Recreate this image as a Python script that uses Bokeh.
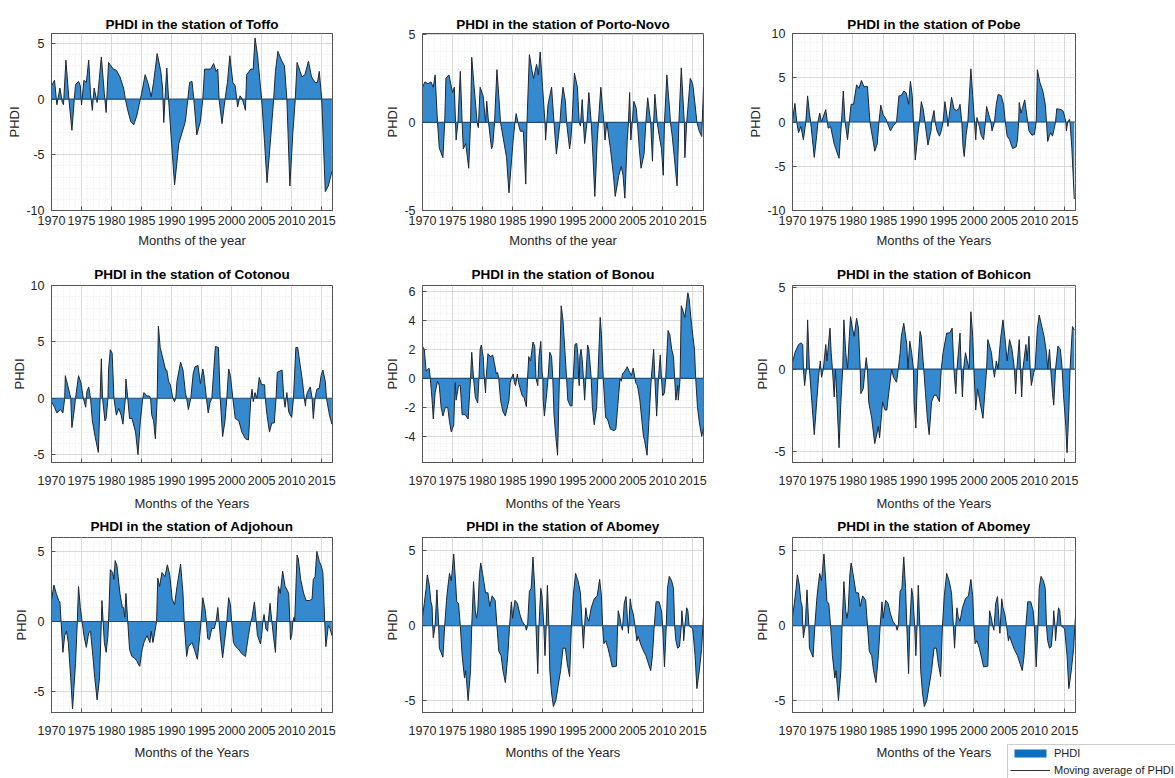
from bokeh.plotting import figure
from bokeh.layouts import column, row
from bokeh.models import Span, Legend, LegendItem, FixedTicker, Range1d
from bokeh.core.properties import value
from bokeh.embed import file_html
from bokeh.resources import INLINE

# ---------------- data ----------------
toffo_years = [1970.0, 1970.5, 1970.9, 1971.4, 1971.8, 1972.0, 1972.4, 1972.9, 1973.4, 1973.8, 1974.0, 1974.5, 1974.8, 1975.0, 1975.4, 1975.8, 1976.2, 1976.5, 1976.8, 1977.1, 1977.6, 1978.3, 1978.8, 1979.1, 1979.5, 1980.3, 1980.8, 1981.4, 1982.0, 1982.3, 1982.7, 1983.2, 1983.7, 1984.2, 1984.6, 1985.0, 1985.6, 1986.1, 1986.6, 1987.0, 1987.6, 1988.2, 1988.5, 1988.7, 1988.9, 1989.2, 1989.5, 1990.0, 1990.5, 1991.2, 1992.3, 1992.7, 1993.0, 1993.4, 1993.7, 1994.2, 1994.8, 1995.2, 1995.5, 1996.5, 1997.0, 1997.4, 1997.7, 1997.9, 1998.4, 1998.9, 1999.3, 1999.7, 2000.2, 2000.6, 2001.0, 2001.4, 2001.8, 2002.3, 2002.5, 2003.2, 2003.6, 2003.9, 2004.3, 2005.0, 2005.5, 2005.9, 2006.5, 2007.0, 2007.3, 2007.7, 2008.3, 2008.8, 2009.2, 2009.7, 2010.2, 2010.6, 2010.9, 2011.4, 2011.7, 2012.2, 2012.8, 2013.3, 2013.9, 2014.3, 2014.6, 2015.0, 2015.6, 2016.1, 2016.7]
toffo_phdi = [1.2, 1.7, -0.5, 1.0, -0.3, -0.5, 3.5, 0.0, -2.8, 0.0, 1.3, 1.6, 1.2, -0.5, 1.7, 1.5, 3.5, 0.5, -1.0, 1.0, -0.3, 3.8, 0.5, -1.2, 3.3, 2.7, 2.6, 2.0, 1.0, 0.0, -1.0, -2.0, -2.3, -1.5, -0.5, 0.5, 2.2, 1.4, 0.2, 1.5, 4.1, 2.5, 1.0, -2.1, 0.0, 2.8, 0.0, -4.0, -7.7, -4.0, -2.0, 0.0, 1.5, 1.6, 0.0, -3.2, -2.0, 0.0, 2.7, 2.7, 3.2, 2.5, 2.7, 0.0, -2.2, 0.0, 1.5, 3.9, 1.5, 1.2, -0.7, 0.3, 0.0, -1.0, 2.2, 2.7, 2.7, 5.5, 4.0, 0.0, -4.0, -7.5, -3.5, 0.0, 2.5, 4.3, 3.5, 3.0, 0.0, -7.8, -3.0, 0.0, 3.3, 2.5, 2.0, 2.2, 3.4, 2.0, 1.5, 1.5, 2.5, 0.0, -8.3, -7.8, -6.5]

porto_years = [1970.0, 1970.4, 1970.9, 1971.4, 1971.8, 1972.1, 1972.5, 1972.8, 1973.4, 1973.7, 1973.9, 1974.4, 1975.0, 1975.3, 1975.6, 1975.9, 1976.3, 1976.6, 1976.8, 1977.2, 1977.7, 1978.0, 1978.2, 1978.6, 1979.1, 1979.3, 1979.6, 1980.1, 1980.5, 1980.7, 1981.0, 1981.5, 1981.7, 1982.0, 1982.4, 1983.0, 1983.3, 1984.0, 1984.4, 1985.1, 1985.4, 1985.6, 1985.9, 1986.3, 1986.8, 1987.2, 1987.4, 1987.8, 1988.2, 1988.5, 1989.0, 1989.3, 1989.6, 1990.0, 1990.4, 1990.5, 1990.9, 1991.5, 1991.9, 1992.3, 1992.9, 1993.1, 1993.4, 1993.8, 1994.0, 1994.5, 1994.7, 1994.9, 1995.3, 1995.8, 1996.1, 1996.3, 1996.6, 1996.8, 1997.0, 1997.4, 1997.7, 1998.1, 1998.4, 1998.7, 1999.1, 1999.3, 1999.7, 2000.2, 2000.4, 2000.7, 2001.3, 2001.8, 2002.1, 2002.7, 2003.1, 2003.4, 2003.7, 2004.1, 2004.3, 2004.5, 2004.7, 2005.2, 2005.6, 2005.8, 2006.1, 2006.4, 2006.9, 2007.2, 2007.5, 2008.0, 2008.3, 2008.5, 2008.7, 2009.1, 2009.4, 2009.8, 2010.1, 2010.3, 2010.7, 2011.2, 2011.3, 2011.6, 2012.0, 2012.4, 2012.7, 2013.1, 2013.6, 2013.7, 2014.0, 2014.6, 2015.0, 2015.4, 2015.7, 2016.1, 2016.5, 2016.8]
porto_phdi = [2.0, 2.3, 2.2, 2.3, 2.0, 2.7, 0.0, -1.45, -2.0, 0.0, 2.5, 2.7, 1.7, 2.0, -1.0, 0.0, 2.9, 0.0, -1.5, -1.2, -2.6, 0.0, 3.7, 2.0, 0.0, -0.3, 2.0, 1.5, 0.0, 1.2, 0.0, -1.5, -1.3, 0.0, 3.0, 0.0, -0.6, -2.0, -4.0, -1.0, 0.0, 0.5, 0.0, -0.5, -0.5, -3.5, 0.0, 3.85, 3.0, 2.5, 3.3, 2.7, 4.0, 2.0, 0.0, -1.0, 1.0, 2.0, 0.0, -1.8, 0.0, 1.0, 2.0, 1.2, 0.0, -1.5, -1.0, 0.0, 2.8, 2.0, 0.0, -0.2, 1.3, 0.0, -1.2, 0.0, 1.7, 0.0, -2.0, -4.2, -1.0, 0.0, 2.0, 0.0, -1.0, 0.0, -1.5, -3.0, -4.2, -3.0, -2.5, -3.0, -4.3, -1.0, 0.0, 1.7, -1.0, 1.2, 0.8, 0.0, -1.5, -2.6, -1.8, 0.0, 1.4, 0.0, -2.2, 0.0, 1.6, 0.0, -0.7, -1.5, -3.0, 0.0, 2.7, 0.5, 0.0, -0.8, -2.2, -3.6, 0.0, 3.1, 0.0, -2.0, 0.0, 2.5, 2.2, 1.0, 0.0, -0.5, -0.8, 2.0]

pobe_years = [1970.0, 1970.4, 1970.7, 1971.0, 1971.4, 1971.8, 1972.2, 1972.5, 1972.8, 1973.0, 1973.3, 1973.6, 1974.0, 1974.2, 1974.5, 1974.8, 1975.5, 1975.9, 1976.3, 1976.9, 1977.7, 1978.1, 1978.4, 1978.7, 1979.1, 1979.4, 1979.7, 1980.1, 1980.6, 1981.0, 1981.4, 1981.8, 1982.4, 1982.8, 1983.3, 1983.6, 1984.0, 1984.3, 1984.6, 1985.0, 1985.5, 1985.8, 1986.2, 1986.6, 1987.2, 1987.6, 1988.0, 1988.4, 1988.8, 1989.2, 1989.5, 1989.8, 1990.0, 1990.3, 1990.8, 1991.0, 1991.3, 1991.6, 1991.9, 1992.4, 1992.9, 1993.0, 1993.4, 1993.6, 1993.9, 1994.3, 1994.6, 1994.9, 1995.2, 1995.6, 1995.7, 1996.3, 1996.7, 1997.1, 1997.5, 1997.7, 1998.0, 1998.2, 1998.4, 1998.7, 1999.0, 1999.5, 1999.8, 2000.1, 2000.3, 2000.5, 2000.9, 2001.2, 2001.6, 2001.9, 2002.1, 2002.6, 2002.8, 2003.0, 2003.4, 2003.7, 2004.0, 2004.5, 2004.9, 2005.2, 2005.5, 2005.9, 2006.4, 2007.0, 2007.2, 2007.4, 2007.5, 2007.8, 2008.4, 2008.6, 2008.9, 2009.1, 2009.6, 2010.0, 2010.3, 2010.5, 2010.9, 2011.4, 2011.8, 2012.0, 2012.2, 2012.5, 2012.7, 2013.0, 2013.5, 2013.7, 2014.4, 2014.8, 2015.2, 2015.3, 2015.5, 2015.8, 2015.9, 2016.2, 2016.6]
pobe_phdi = [0.2, 2.1, 0.0, -1.2, -0.5, -2.0, 0.0, 2.95, 1.0, 0.0, -2.0, -4.0, -1.5, 0.0, 1.0, 0.0, 1.4, -0.7, -0.5, -2.5, -4.1, 0.0, 3.5, 0.0, -2.0, 0.0, 2.0, 2.0, 4.2, 3.8, 4.7, 4.0, 4.0, 0.0, -2.0, -3.3, -2.5, 0.0, 1.9, 0.8, 0.3, -0.3, -1.0, -0.5, 0.0, 2.95, 3.0, 3.5, 3.3, 2.0, 4.6, 3.0, 0.0, -4.3, -1.0, 0.0, 2.3, 1.5, 0.0, -2.6, -1.0, 0.0, 1.3, 0.0, -1.0, -1.6, -1.0, 0.0, 2.3, 0.5, -0.5, 2.8, 1.5, 1.3, 1.5, 2.0, 0.0, -2.8, -3.9, -1.5, 0.0, 6.0, 3.0, 0.0, -2.0, 0.5, -0.5, -1.5, -2.0, 0.0, 1.75, 0.5, 0.0, -1.0, 0.0, 2.0, 3.1, 3.0, 2.0, 0.0, -1.6, -2.0, -3.0, -2.8, -2.0, 0.0, 2.2, 1.0, 2.5, 1.5, 0.0, -1.0, -1.5, -1.4, 0.0, 5.9, 4.5, 3.5, 2.0, 0.0, -2.2, -1.5, -1.2, -1.6, 0.0, 1.5, 1.4, 1.2, 0.0, -1.0, 0.0, 0.3, 0.0, -3.0, -8.7]

cotonou_years = [1970.0, 1970.5, 1970.9, 1971.5, 1971.9, 1972.2, 1972.3, 1972.9, 1973.2, 1973.4, 1973.8, 1974.0, 1974.5, 1974.9, 1975.3, 1975.7, 1975.9, 1976.2, 1976.5, 1976.8, 1977.3, 1977.8, 1978.1, 1978.3, 1978.5, 1978.9, 1979.1, 1979.4, 1979.5, 1979.8, 1980.1, 1980.4, 1980.8, 1981.2, 1981.6, 1981.9, 1982.3, 1982.4, 1982.7, 1983.0, 1983.4, 1984.0, 1984.4, 1984.8, 1985.2, 1985.4, 1985.9, 1986.3, 1986.5, 1986.7, 1987.0, 1987.3, 1987.6, 1987.8, 1988.1, 1988.7, 1989.0, 1989.2, 1989.5, 1989.8, 1990.2, 1990.5, 1990.7, 1990.9, 1991.5, 1991.9, 1992.3, 1992.5, 1992.8, 1993.2, 1993.6, 1993.9, 1994.4, 1994.8, 1995.2, 1995.4, 1995.8, 1996.1, 1996.4, 1996.7, 1997.3, 1997.8, 1998.1, 1998.5, 1998.9, 1999.2, 1999.5, 1999.8, 2000.2, 2000.6, 2001.2, 2001.7, 2002.3, 2002.8, 2003.2, 2003.4, 2003.6, 2003.9, 2004.2, 2004.6, 2005.0, 2005.5, 2005.6, 2005.9, 2006.3, 2006.7, 2007.1, 2007.4, 2007.6, 2008.4, 2008.7, 2008.9, 2009.2, 2009.5, 2010.0, 2010.3, 2010.7, 2011.0, 2011.4, 2011.8, 2012.1, 2012.3, 2012.4, 2012.6, 2013.1, 2013.4, 2013.6, 2013.9, 2014.2, 2014.6, 2014.9, 2015.2, 2015.6, 2015.8, 2016.3, 2016.7]
cotonou_phdi = [-0.3, -0.8, -1.3, -1.0, -1.3, 0.0, 2.0, 0.7, 0.0, -2.6, -1.0, 0.0, 2.0, 1.4, 0.0, -0.8, 0.6, 1.0, 0.0, -2.0, -3.5, -4.8, 0.0, 3.5, 0.0, -2.0, -1.8, 0.0, 2.5, 4.3, 4.0, 0.0, -1.5, -0.9, -1.5, -2.3, 0.0, 1.7, 0.0, -1.8, -1.8, -3.0, -5.0, -2.0, 0.0, 0.5, 0.2, 0.2, 0.0, -1.5, -2.0, -3.6, 0.0, 6.4, 4.5, 3.2, 2.5, 2.5, 1.5, 1.2, 0.0, -0.3, 0.0, 1.5, 3.2, 2.5, 0.5, 0.0, -1.0, 0.0, 2.2, 2.8, 2.9, 1.3, 2.6, 2.0, 0.0, -1.3, -0.4, 0.0, 4.6, 4.5, 0.0, -3.4, -2.0, 0.0, 2.6, 2.0, 0.0, -1.8, -2.0, -3.0, -3.6, -3.7, 0.0, 0.8, -0.3, 0.5, 0.0, 1.85, 1.2, 1.2, 0.0, -1.5, -3.0, -2.2, -2.2, 0.0, 2.3, 2.5, 0.0, -0.8, 0.5, -1.2, -1.7, 0.0, 4.5, 4.5, 3.0, 1.5, 0.0, -0.7, 0.0, 0.5, 1.0, 0.0, -1.8, 0.0, 0.8, 0.9, 2.0, 2.5, 1.5, 0.0, -1.5, -2.3]

bonou_years = [1970.0, 1970.3, 1970.6, 1971.1, 1971.3, 1971.6, 1971.8, 1972.1, 1972.5, 1972.8, 1973.1, 1973.4, 1973.8, 1974.2, 1974.5, 1974.8, 1975.2, 1975.45, 1975.6, 1976.0, 1976.3, 1976.6, 1977.1, 1977.6, 1978.0, 1978.2, 1978.5, 1978.8, 1979.2, 1979.4, 1979.6, 1979.8, 1980.1, 1980.3, 1980.5, 1980.6, 1980.9, 1981.3, 1981.7, 1982.0, 1982.3, 1982.5, 1982.7, 1983.0, 1983.4, 1983.8, 1984.4, 1984.6, 1984.8, 1985.1, 1985.3, 1985.5, 1985.8, 1986.0, 1986.6, 1986.9, 1987.3, 1987.5, 1987.7, 1988.0, 1988.4, 1988.7, 1988.9, 1989.2, 1989.4, 1989.7, 1989.9, 1990.05, 1990.1, 1990.3, 1990.7, 1990.9, 1991.2, 1991.5, 1991.7, 1991.9, 1992.2, 1992.5, 1992.8, 1993.1, 1993.4, 1993.7, 1994.0, 1994.2, 1994.6, 1994.9, 1995.1, 1995.4, 1995.7, 1995.9, 1996.0, 1996.1, 1996.2, 1996.4, 1996.6, 1996.8, 1997.0, 1997.2, 1997.5, 1997.7, 1998.1, 1998.3, 1998.6, 1999.0, 1999.2, 1999.6, 1999.8, 2000.1, 2000.5, 2000.8, 2001.3, 2001.9, 2002.2, 2002.5, 2002.9, 2003.1, 2003.3, 2003.7, 2004.1, 2004.4, 2004.8, 2005.1, 2005.5, 2005.8, 2006.2, 2006.8, 2007.0, 2007.4, 2007.7, 2008.1, 2008.5, 2008.7, 2009.0, 2009.3, 2009.6, 2009.8, 2010.0, 2010.3, 2010.5, 2010.9, 2011.2, 2011.5, 2011.8, 2012.0, 2012.2, 2012.5, 2012.6, 2012.9, 2013.1, 2013.5, 2013.7, 2014.2, 2014.4, 2014.7, 2015.0, 2015.3, 2015.5, 2015.8, 2016.1, 2016.5, 2016.9]
bonou_phdi = [2.2, 2.0, 0.5, 0.7, 0.0, -1.5, -2.8, -1.0, -0.2, -0.5, -2.0, -2.6, -2.0, -2.0, -3.0, -3.7, -3.2, -0.3, -1.5, -0.5, -0.5, -2.5, -2.5, -2.8, 0.0, 1.8, 0.0, -1.3, -1.7, 0.0, 2.0, 2.3, 1.5, 0.0, -1.0, 0.0, 1.7, 1.5, 1.6, 1.0, 0.3, 0.4, 0.0, -1.5, -2.3, -2.6, -1.5, -0.3, 0.0, 0.3, -0.3, -0.5, 0.3, -0.3, -1.2, -1.3, -1.95, 0.0, 1.5, 1.2, 2.5, 2.2, 0.0, -0.5, 1.5, 2.55, 0.5, 0.0, -1.5, -2.6, -1.0, 0.0, 1.8, 1.5, 0.0, -2.5, -4.0, -5.3, 0.0, 5.0, 4.0, 2.0, 0.0, -1.5, -1.9, -1.9, 0.0, 2.35, 2.4, 1.5, 0.0, -0.5, 1.5, 2.0, 1.3, 0.0, -1.5, 0.0, 2.3, 2.0, 0.0, -2.0, -3.2, -2.0, 0.0, 4.2, 3.0, 0.0, -2.7, -2.8, -3.5, -3.6, -3.5, -2.0, 0.0, -0.2, 0.3, 0.5, 0.8, 0.5, 0.2, 0.7, -0.3, -0.5, -1.5, -4.0, -4.3, -5.3, -3.0, 0.0, 2.0, 0.0, -2.6, 0.0, 1.6, 0.0, -1.2, -1.0, 0.0, 3.3, 3.0, 2.0, 1.5, 0.0, -1.5, -0.5, -1.5, 0.0, 5.0, 4.5, 4.2, 5.9, 5.5, 4.2, 3.0, 2.0, 0.0, -2.0, -3.0, -4.0, -3.3]

bohicon_years = [1970.0, 1970.4, 1971.0, 1971.4, 1971.7, 1971.8, 1972.0, 1972.3, 1972.5, 1972.8, 1973.1, 1973.4, 1973.6, 1974.0, 1974.3, 1974.45, 1974.6, 1974.8, 1975.1, 1975.5, 1975.7, 1976.2, 1976.4, 1976.6, 1976.9, 1977.1, 1977.3, 1977.7, 1978.0, 1978.3, 1978.5, 1978.8, 1979.1, 1979.4, 1979.6, 1979.9, 1980.2, 1980.6, 1980.9, 1981.2, 1981.3, 1981.7, 1982.0, 1982.2, 1982.4, 1982.6, 1983.1, 1983.6, 1984.2, 1984.4, 1984.9, 1985.3, 1985.6, 1985.9, 1986.4, 1986.7, 1987.2, 1987.5, 1987.8, 1988.0, 1988.4, 1988.9, 1989.1, 1989.4, 1989.7, 1990.0, 1990.1, 1990.4, 1990.7, 1991.1, 1991.3, 1991.7, 1992.0, 1992.3, 1992.6, 1993.0, 1993.4, 1993.8, 1994.3, 1994.6, 1994.9, 1995.5, 1996.0, 1996.4, 1996.7, 1997.0, 1997.2, 1997.7, 1997.9, 1998.1, 1998.3, 1998.6, 1998.9, 1999.2, 1999.5, 1999.8, 2000.0, 2000.3, 2000.6, 2001.0, 2001.5, 2002.1, 2002.3, 2002.9, 2003.2, 2003.4, 2003.7, 2004.0, 2004.4, 2004.8, 2005.1, 2005.5, 2005.9, 2006.3, 2006.7, 2006.9, 2007.1, 2007.5, 2007.7, 2007.9, 2008.1, 2008.6, 2008.8, 2009.1, 2009.3, 2009.5, 2009.9, 2010.1, 2010.5, 2010.8, 2011.1, 2011.6, 2012.0, 2012.2, 2012.5, 2012.7, 2013.0, 2013.2, 2013.5, 2013.9, 2014.3, 2014.6, 2014.8, 2015.2, 2015.4, 2015.7, 2015.9, 2016.3, 2016.6]
bohicon_phdi = [0.4, 1.0, 1.5, 1.6, 1.5, 0.0, -1.0, 0.0, 3.0, 0.0, -1.5, -3.0, -4.0, -2.0, -0.5, 0.0, 0.5, -0.5, 0.0, 1.5, 0.5, 2.5, 1.0, 0.0, -1.7, 0.0, -1.5, -4.8, -2.0, 0.0, 3.0, 1.0, 0.0, 2.0, 3.2, 2.5, 2.0, 3.1, 2.5, 0.0, -1.5, -1.2, 0.0, 0.7, 0.0, -2.0, -3.0, -4.55, -3.5, -4.2, -2.0, -2.5, -2.5, -1.5, 0.0, -0.5, -0.8, 0.0, 1.0, 2.0, 2.8, 1.5, 0.0, 1.7, 1.0, 0.0, -2.0, -3.6, 0.0, 2.3, 2.0, 0.0, -1.5, -3.0, -4.0, -2.0, -1.6, -1.6, -2.0, 0.0, 1.0, 2.2, 2.2, 2.5, 0.0, -1.5, 0.0, 2.2, 0.0, -1.7, 0.0, 1.0, 0.5, 0.0, 3.5, 2.0, 0.0, -2.5, -1.2, -2.0, -3.0, 0.0, 1.8, 1.0, 0.0, -0.5, 0.5, 0.0, 1.8, 3.0, 2.0, 0.5, 1.8, 1.2, 0.0, -1.5, 0.0, 1.8, 0.0, -1.7, 0.0, 1.5, 0.5, 2.0, 0.0, -1.0, -0.2, 0.0, 2.5, 3.3, 2.8, 2.0, 1.0, 0.0, 1.2, 0.0, -1.5, -2.2, 0.0, 1.4, 1.2, 0.0, -1.5, -3.5, -5.1, -2.5, 0.0, 2.6, 2.4]

adjohoun_years = [1970.0, 1970.4, 1970.8, 1971.2, 1971.4, 1971.6, 1971.8, 1971.9, 1972.2, 1972.5, 1972.8, 1973.2, 1973.5, 1974.0, 1974.3, 1974.5, 1974.8, 1975.1, 1975.4, 1975.8, 1976.2, 1976.5, 1976.9, 1977.2, 1977.6, 1978.0, 1978.3, 1978.4, 1978.6, 1978.8, 1979.1, 1979.4, 1979.5, 1979.8, 1980.2, 1980.4, 1980.6, 1980.9, 1981.4, 1981.8, 1982.0, 1982.2, 1982.4, 1982.7, 1983.0, 1983.4, 1983.8, 1984.2, 1984.4, 1984.7, 1985.1, 1985.4, 1985.9, 1986.4, 1986.6, 1986.9, 1987.5, 1987.7, 1988.0, 1988.4, 1988.9, 1989.3, 1989.7, 1990.1, 1990.5, 1990.9, 1991.5, 1991.9, 1992.1, 1992.5, 1992.8, 1993.4, 1993.8, 1994.3, 1994.7, 1994.9, 1995.2, 1995.6, 1995.8, 1996.0, 1996.3, 1996.7, 1997.1, 1997.4, 1997.7, 1997.9, 1998.1, 1998.5, 1998.8, 1999.2, 1999.5, 1999.8, 2000.0, 2000.3, 2000.7, 2001.2, 2001.7, 2002.3, 2002.8, 2003.2, 2003.4, 2003.8, 2004.1, 2004.3, 2004.8, 2005.0, 2005.2, 2005.4, 2005.7, 2006.0, 2006.1, 2006.4, 2006.7, 2007.0, 2007.3, 2007.5, 2007.8, 2008.1, 2008.5, 2008.9, 2009.3, 2009.5, 2009.7, 2009.8, 2010.0, 2010.2, 2010.4, 2010.5, 2010.9, 2011.1, 2011.5, 2012.0, 2012.4, 2013.0, 2013.4, 2013.6, 2013.9, 2014.2, 2014.6, 2014.9, 2015.2, 2015.5, 2015.7, 2016.1, 2016.4, 2016.7]
adjohoun_phdi = [1.5, 2.6, 2.0, 1.5, 1.4, 0.0, -1.5, -2.2, -1.0, -0.7, -1.5, -4.0, -6.25, -3.0, 0.0, 2.5, 1.0, 0.0, -1.0, -1.85, -0.8, -0.7, -2.5, -4.0, -5.6, -4.0, 0.0, 1.5, 0.0, -1.5, -2.2, -1.0, 0.0, 3.7, 3.5, 3.0, 4.35, 4.0, 2.0, 1.0, 1.0, 0.3, 2.0, 0.0, -2.0, -2.5, -2.6, -2.8, -3.0, -3.2, -2.0, -1.5, -1.0, -1.5, -0.7, -1.5, 0.0, 3.1, 2.5, 3.5, 3.2, 4.05, 3.3, 1.6, 1.2, 2.5, 4.1, 2.0, 0.0, -2.5, -1.8, -1.5, -2.0, -2.7, -1.0, 0.0, 1.7, 0.8, 0.0, -1.2, -1.3, -0.5, -0.5, 0.0, 1.0, 0.0, -1.0, -2.6, -1.5, 0.0, 1.7, 1.2, 0.0, -1.5, -1.8, -2.0, -2.3, -2.5, -1.0, 0.0, 0.3, 1.4, 0.0, -1.0, -1.6, -1.0, 0.0, 0.5, -0.5, -0.7, 0.0, 1.3, 0.0, -1.2, -2.2, 0.0, 2.5, 2.0, 3.6, 2.5, 2.2, 2.0, 0.0, -1.3, -1.0, 0.0, 0.3, 0.0, 4.75, 4.5, 3.0, 2.0, 1.5, 1.5, 1.6, 3.0, 3.2, 5.0, 4.3, 4.0, 3.5, 0.0, -1.8, -0.3, -0.5, -1.0]

abomey_years = [1970.0, 1970.3, 1970.6, 1970.8, 1971.1, 1971.4, 1971.6, 1971.7, 1971.8, 1972.1, 1972.4, 1972.7, 1972.8, 1973.1, 1973.4, 1973.7, 1974.0, 1974.2, 1974.5, 1974.8, 1975.2, 1975.5, 1975.7, 1976.0, 1976.3, 1976.6, 1977.0, 1977.2, 1977.6, 1978.0, 1978.2, 1978.5, 1978.8, 1979.0, 1979.2, 1979.5, 1979.7, 1980.0, 1980.5, 1980.9, 1981.2, 1981.6, 1982.1, 1982.4, 1982.7, 1983.1, 1983.4, 1983.8, 1984.2, 1984.5, 1984.8, 1985.0, 1985.4, 1985.8, 1986.2, 1986.6, 1987.1, 1987.3, 1987.5, 1987.8, 1988.1, 1988.4, 1988.7, 1988.9, 1989.2, 1989.4, 1989.7, 1989.9, 1990.2, 1990.4, 1990.6, 1990.8, 1991.05, 1991.2, 1991.5, 1991.8, 1992.2, 1992.6, 1993.0, 1993.4, 1993.8, 1994.1, 1994.5, 1994.8, 1995.1, 1995.5, 1995.9, 1996.3, 1996.6, 1996.8, 1997.0, 1997.2, 1997.4, 1997.7, 1998.1, 1998.6, 1999.1, 1999.5, 1999.8, 2000.0, 2000.2, 2000.5, 2000.9, 2001.3, 2001.6, 2002.3, 2002.5, 2002.6, 2002.9, 2003.1, 2003.3, 2003.6, 2003.9, 2004.2, 2004.3, 2004.6, 2004.8, 2005.1, 2005.4, 2005.7, 2005.9, 2006.4, 2006.7, 2007.2, 2007.6, 2008.0, 2008.3, 2008.6, 2008.9, 2009.4, 2009.8, 2010.0, 2010.3, 2010.6, 2010.8, 2011.1, 2011.5, 2011.8, 2012.0, 2012.2, 2012.5, 2012.8, 2013.1, 2013.2, 2013.4, 2013.5, 2013.7, 2014.0, 2014.2, 2014.4, 2015.0, 2015.4, 2015.7, 2016.1, 2016.5, 2016.7, 2016.9]
abomey_phdi = [0.6, 1.5, 2.5, 3.4, 2.8, 1.6, 1.3, 0.0, -0.8, 0.0, 2.4, 0.0, -1.5, -1.8, -2.1, 0.0, 1.7, 2.5, 3.5, 3.0, 4.8, 3.0, 1.6, 1.5, 0.0, -2.0, -3.5, -3.0, -5.0, -3.0, 0.0, 2.95, 1.0, 0.5, 1.0, 3.5, 4.2, 3.5, 2.2, 2.2, 1.3, 2.0, 1.7, 0.0, -1.7, -2.0, -3.0, -3.8, -2.0, 0.0, 1.6, 0.5, 1.7, 1.5, 0.8, 0.3, 0.0, -0.3, 0.0, 2.3, 2.5, 4.6, 2.5, 0.0, -3.2, 0.0, 2.5, 2.0, 0.0, -2.0, 0.0, 2.7, 0.0, -3.0, -4.5, -5.4, -5.0, -4.0, -3.0, -1.5, -1.5, -2.5, -3.4, 0.0, 2.0, 3.5, 3.0, 2.2, 0.0, -1.5, 0.0, 1.2, 0.6, 0.3, 1.2, 1.8, 2.0, 3.1, 2.0, 0.0, -1.2, -1.0, -1.5, -2.2, -2.75, -2.7, 0.0, 1.0, 0.5, 0.0, -0.3, 1.5, 1.95, 0.0, -0.5, 1.8, 1.2, 0.8, 0.0, -1.0, -0.7, -1.3, -1.6, -2.0, -2.5, -3.0, -2.0, 0.0, 1.6, 1.6, 1.0, 0.0, -2.75, 0.0, 2.5, 3.3, 3.0, 2.5, 0.0, -1.0, -1.5, -1.4, 0.0, 1.0, 0.0, -1.0, 0.0, 1.2, 1.0, 0.0, -0.2, -2.0, -4.2, -3.0, -1.5, 0.0, 1.3]

x_ticks = [1970, 1975, 1980, 1985, 1990, 1995, 2000, 2005, 2010, 2015]

panels = [
    ("PHDI in the station of Toffo", "Months of the year", toffo_years, toffo_phdi, (-10, 5.9), [-10, -5, 0, 5], 1),
    ("PHDI in the station of Porto-Novo", "Months of the year", porto_years, porto_phdi, (-5, 5.05), [-5, 0, 5], 1),
    ("PHDI in the station of Pobe", "Months of the Years", pobe_years, pobe_phdi, (-10, 10), [-10, -5, 0, 5, 10], 1),
    ("PHDI in the station of Cotonou", "Months of the Years", cotonou_years, cotonou_phdi, (-5.7, 10), [-5, 0, 5, 10], 1),
    ("PHDI in the station of Bonou", "Months of the Years", bonou_years, bonou_phdi, (-5.8, 6.4), [-4, -2, 0, 2, 4, 6], 0.5),
    ("PHDI in the station of Bohicon", "Months of the Years", bohicon_years, bohicon_phdi, (-5.7, 5.1), [-5, 0, 5], 1),
    ("PHDI in the station of Adjohoun", "Months of the Years", adjohoun_years, adjohoun_phdi, (-6.5, 6.0), [-5, 0, 5], 1),
    ("PHDI in the station of Abomey", "Months of the Years", abomey_years, abomey_phdi, (-5.8, 5.9), [-5, 0, 5], 1),
    ("PHDI in the station of Abomey", "Months of the Years", abomey_years, abomey_phdi, (-5.8, 5.9), [-5, 0, 5], 1),
]

BAR = "#3589cf"
LINE = "#1c2733"
FONT = "Liberation Sans"

col_w = [370, 370, 435]
col_l = [51, 52, 52]
col_r = [38, 37, 100]
row_h = [256, 257, 230]
row_t = [33, 29, 23]
row_b = [46, 51, 31]
tick_standoff = [1, 9, 9]
lab_standoff = [5, 8, 8]
title_standoff = [4, 7, 7]


def minor_list(lo, hi, step):
    out = []
    v = lo
    while v <= hi + 1e-9:
        out.append(round(v, 3))
        v += step
    return out


def make(i):
    title, xlabel, yrs, vals, yr, yt, ystep = panels[i]
    r, c = divmod(i, 3)
    p = figure(width=col_w[c], height=row_h[r], toolbar_location=None, output_backend="svg",
               x_range=Range1d(1970, 2016.8), y_range=Range1d(*yr),
               min_border_left=col_l[c], min_border_right=col_r[c],
               min_border_top=row_t[r], min_border_bottom=row_b[r])
    p.title.text = title
    p.title.align = "center"
    p.title.text_font = FONT
    p.title.text_font_size = "13.5px"
    p.title.text_font_style = "bold"
    p.title.text_color = "#000000"
    p.title.standoff = title_standoff[r]

    xt = FixedTicker(ticks=x_ticks, minor_ticks=minor_list(1970, 2016, 1))
    ytk = FixedTicker(ticks=yt, minor_ticks=minor_list(yt[0] - 5, yt[-1] + 5, ystep))
    p.xaxis.ticker = xt
    p.yaxis.ticker = ytk
    p.xgrid.ticker = xt
    p.ygrid.ticker = ytk
    for g in (p.xgrid, p.ygrid):
        g.grid_line_color = "#dadada"
        g.grid_line_width = 1
        g.minor_grid_line_color = "#e8e8e8"
        g.minor_grid_line_dash = "1 2"
    for ax in (p.xaxis, p.yaxis):
        ax.major_tick_in = 4
        ax.major_tick_out = 0
        ax.minor_tick_line_color = None
        ax.axis_line_color = "#555555"
        ax.major_tick_line_color = "#555555"
        ax.major_label_text_font = FONT
        ax.major_label_text_font_size = "12.5px"
        ax.major_label_text_color = "#262626"
        ax.axis_label_text_font = FONT
        ax.axis_label_text_font_size = "13px"
        ax.axis_label_text_font_style = "normal"
        ax.axis_label_text_color = "#262626"
    p.xaxis.major_label_standoff = tick_standoff[r]
    p.xaxis.axis_label_standoff = lab_standoff[r]
    p.yaxis.major_label_standoff = 3
    p.yaxis.axis_label_standoff = 1
    p.yaxis.major_label_overrides = {t: str(t) for t in yt}
    if r < 2:
        p.xaxis.axis_label = xlabel
    p.yaxis.axis_label = "PHDI"
    p.outline_line_color = "#555555"
    p.outline_line_alpha = 1

    p.varea(x=yrs, y1=0, y2=vals, fill_color=BAR, fill_alpha=1)
    p.add_layout(Span(location=0, dimension="width", line_color="#1f4e79", line_width=1.2))
    p.line(x=yrs, y=vals, line_color=LINE, line_width=1)
    return p


figs = [make(i) for i in range(9)]

# strip under the last row: the x-axis labels of the last row and the shared legend
strip = figure(width=1175, height=35, toolbar_location=None, output_backend="svg",
               x_range=Range1d(0, 1175), y_range=Range1d(0, 35),
               x_axis_type=None, y_axis_type=None,
               min_border_left=0, min_border_right=0, min_border_top=0, min_border_bottom=0)
strip.grid.visible = False
strip.outline_line_color = None
strip.text(x=[191.5, 562.5, 933.5], y=[26, 26, 26], text=[panels[6][1], panels[7][1], panels[8][1]],
           text_font=value(FONT), text_font_size="13px",
           text_color="#262626", text_align="center", text_baseline="middle")
# legend proxies (kept outside the visible range, only their legend glyphs show)
lb = strip.varea(x=[-30, -20], y1=[0, 0], y2=[1, 1], fill_color="#0a6fbf")
ll = strip.line(x=[-30, -20], y=[0, 0], line_color="#333333", line_width=1)
leg = Legend(items=[LegendItem(label="PHDI", renderers=[lb]),
                    LegendItem(label="Moving average of PHDI", renderers=[ll])],
             location=(1007, -1), orientation="vertical",
             label_text_font=FONT, label_text_font_size="11px", label_text_color="#222222",
             glyph_width=40, glyph_height=10, label_height=10, spacing=5, padding=2, margin=0,
             label_standoff=4, border_line_color="#9a9a9a", background_fill_alpha=1)
strip.add_layout(leg, "center")

layout = column(row(*figs[0:3]), row(*figs[3:6]), row(*figs[6:9]), strip)

with open("out.html", "w") as f:
    f.write(file_html(layout, INLINE))
